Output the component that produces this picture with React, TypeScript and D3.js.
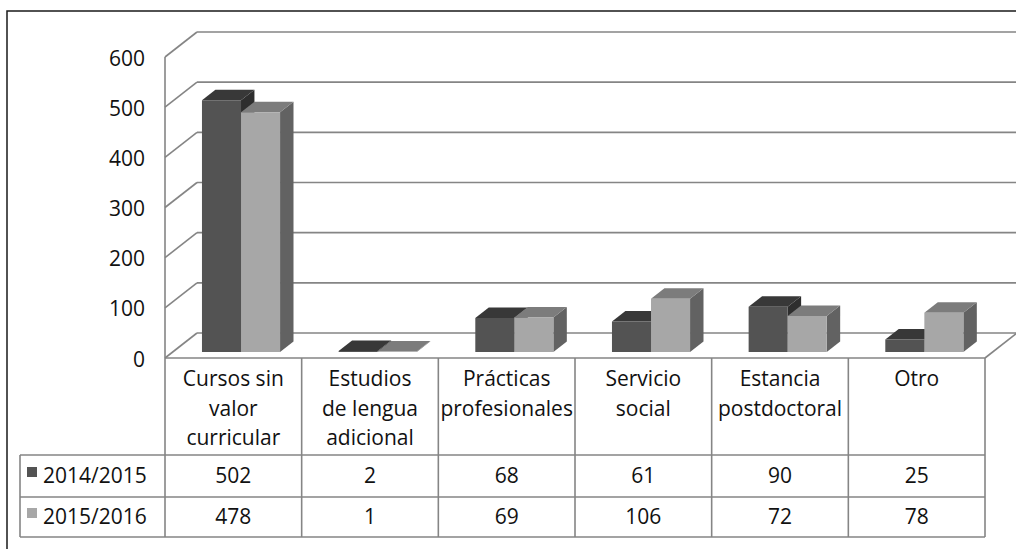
import React from 'react';
import * as d3 from 'd3';

const categories = ['Cursos sin valor curricular', 'Estudios de lengua adicional', 'Prácticas profesionales', 'Servicio social', 'Estancia postdoctoral', 'Otro'];
const categoryLines = [
  ['Cursos sin', 'valor', 'curricular'],
  ['Estudios', 'de lengua', 'adicional'],
  ['Prácticas', 'profesionales'],
  ['Servicio', 'social'],
  ['Estancia', 'postdoctoral'],
  ['Otro'],
];
const series = ['2014/2015', '2015/2016'];
const values2014 = [502, 2, 68, 61, 90, 25];
const values2015 = [478, 1, 69, 106, 72, 78];
const yTicks = [0, 100, 200, 300, 400, 500, 600];

// grey shades per series: front, top, side
const shades = [
  { front: '#535353', top: '#383838', side: '#2e2e2e' },
  { front: '#a7a7a7', top: '#7c7c7c', side: '#626262' },
];

const W = 1016;
const H = 549;
const left = 165;
const right = 985;
const floorY = 358;
const DX = 32; // depth offset of the walls
const DY = 25;
const font = '"Open Sans", sans-serif';
const gridColor = '#858585';

export default function App() {
  const x = d3.scaleBand<string>().domain(categories).range([left, right]);
  const xs = d3.scaleBand<string>().domain(series).range([0, x.bandwidth()]).paddingOuter(0.75);
  const y = d3.scaleLinear().domain([0, 600]).range([floorY, 57]);

  const data = [values2014, values2015];
  const z0 = 0.24;
  const z1 = 0.66;
  const proj = (px: number, py: number, z: number): [number, number] => [px + z * DX, py - z * DY];
  const poly = (pts: [number, number][]) => pts.map((p) => p.join(',')).join(' ');

  const bars: React.ReactNode[] = [];
  categories.forEach((c, ci) => {
    series.forEach((s, si) => {
      const v = data[si][ci];
      const x0 = (x(c) as number) + (xs(s) as number);
      const x1 = x0 + xs.bandwidth();
      const yt = y(v);
      const yb = y(0);
      const sh = shades[si];
      const fTL = proj(x0, yt, z0);
      const fTR = proj(x1, yt, z0);
      const fBR = proj(x1, yb, z0);
      const fBL = proj(x0, yb, z0);
      const bTL = proj(x0, yt, z1);
      const bTR = proj(x1, yt, z1);
      const bBR = proj(x1, yb, z1);
      bars.push(
        <g key={c + s}>
          <polygon points={poly([fTR, bTR, bBR, fBR])} fill={sh.side} />
          <polygon points={poly([fTL, bTL, bTR, fTR])} fill={sh.top} />
          <polygon points={poly([fTL, fTR, fBR, fBL])} fill={sh.front} />
        </g>
      );
    });
  });

  const backLeft = left + DX;
  const backRight = right + DX;
  const tableTop = floorY;
  const headerBottom = 455;
  const row1Bottom = 497;
  const row2Bottom = 537;
  const legendLeft = 20;
  const colEdges = [...categories.map((c) => x(c) as number), right];

  return (
    <svg width={W} height={H} style={{ position: 'absolute', left: 0, top: 0, background: '#fff' }} fontFamily={font}>
      <rect x={0} y={0} width={W} height={H} fill="#fff" />
      <rect x={7} y={11} width={W + 20} height={H + 20} fill="none" stroke="#1a1a1a" strokeWidth={1.5} />

      {/* walls and gridlines */}
      {yTicks.map((t) => (
        <g key={t} stroke={gridColor} strokeWidth={1.6} fill="none">
          <line x1={left} y1={y(t)} x2={backLeft} y2={y(t) - DY} />
          <line x1={backLeft} y1={y(t) - DY} x2={backRight + 10} y2={y(t) - DY} />
        </g>
      ))}
      <line x1={left} y1={y(600)} x2={left} y2={floorY} stroke={gridColor} strokeWidth={1.6} />
      <line x1={left} y1={floorY} x2={right} y2={floorY} stroke={gridColor} strokeWidth={1.6} />
      <line x1={right} y1={floorY} x2={backRight} y2={floorY - DY} stroke={gridColor} strokeWidth={1.6} />

      {yTicks.map((t) => (
        <text key={'l' + t} x={145} y={y(t) + 3} textAnchor="end" dominantBaseline="middle" fontSize={21} fill="#111">
          {t}
        </text>
      ))}

      {bars}

      {/* data table */}
      <g stroke={gridColor} strokeWidth={1.6}>
        {colEdges.map((e, i) => (
          <line key={'c' + i} x1={e} y1={tableTop} x2={e} y2={row2Bottom} />
        ))}
        <line x1={legendLeft} y1={headerBottom} x2={right} y2={headerBottom} />
        <line x1={legendLeft} y1={row1Bottom} x2={right} y2={row1Bottom} />
        <line x1={legendLeft} y1={row2Bottom} x2={right} y2={row2Bottom} />
        <line x1={legendLeft} y1={headerBottom} x2={legendLeft} y2={row2Bottom} />
      </g>

      {categories.map((c, ci) => (
        <text key={'h' + c} x={(x(c) as number) + x.bandwidth() / 2} textAnchor="middle" fontSize={21} fill="#111">
          {categoryLines[ci].map((ln, li) => (
            <tspan key={li} x={(x(c) as number) + x.bandwidth() / 2} y={386 + li * 29.5}>
              {ln}
            </tspan>
          ))}
        </text>
      ))}

      {series.map((s, si) => {
        const rowTop = si === 0 ? headerBottom : row1Bottom;
        const rowBottom = si === 0 ? row1Bottom : row2Bottom;
        const cy = (rowTop + rowBottom) / 2;
        return (
          <g key={s}>
            <rect x={27} y={cy - 9} width={10} height={10} fill={shades[si].front} />
            <text x={43} y={cy + 1} dominantBaseline="middle" fontSize={21} fill="#111">
              {s}
            </text>
            {categories.map((c, ci) => (
              <text key={c} x={(x(c) as number) + x.bandwidth() / 2} y={cy + 1} textAnchor="middle" dominantBaseline="middle" fontSize={21} fill="#111">
                {data[si][ci]}
              </text>
            ))}
          </g>
        );
      })}
    </svg>
  );
}
